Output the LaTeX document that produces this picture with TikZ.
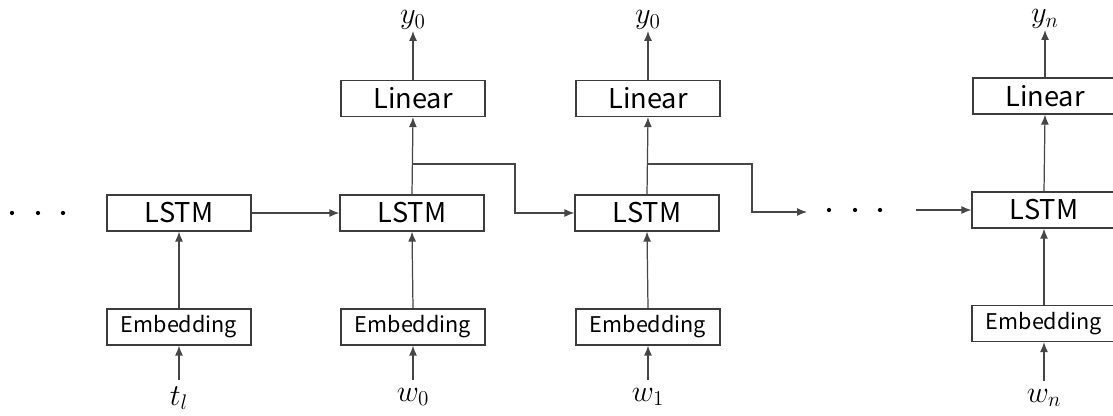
\documentclass[tikz,border=0pt]{standalone}
\usepackage{fontspec}
\usetikzlibrary{arrows.meta}
\newfontfamily\lstmFont{Noto Sans CJK JP}
\definecolor{lstmBorder}{RGB}{60,60,60}
\definecolor{lstmWire}{RGB}{70,70,70}

\begin{document}
\begin{tikzpicture}[x=1cm,y=1cm,
      layer/.style={draw=lstmBorder, line width=.7pt, inner sep=0pt,
        minimum width=2.88cm, minimum height=.72cm,
        font=\fontsize{15.5}{17}\selectfont\lstmFont},
      embed/.style={layer, font=\fontsize{12.3}{14}\selectfont\lstmFont},
      token/.style={font=\fontsize{17}{19}\selectfont, inner sep=.5pt},
      link/.style={draw=lstmWire, line width=.7pt,
        -{Latex[length=.2cm,width=.16cm]}},
      dot/.style={circle, fill=black, inner sep=0pt, minimum size=.085cm}]
      \useasboundingbox (0,0) rectangle (22.26,8.32);
      \fill[white] (0,0) rectangle (22.26,8.32);

      % leading dots
      \foreach \x [count=\i] in {.24,.76,1.26}
        \node[dot] (leadDot\i) at (\x,4.06) {};

      % step t_l
      \node[layer] (lstmA) at (3.58,4.06) {LSTM};
      \node[embed] (embA) at (3.58,1.78) {Embedding};
      \node[token, anchor=north, inner ysep=3.5pt] (inA) at (3.58,.72) {$t_l$};

      % step w_0
      \node[layer] (linB) at (8.26,6.35) {Linear};
      \node[layer] (lstmB) at (8.24,4.06) {LSTM};
      \node[embed] (embB) at (8.26,1.78) {Embedding};
      \node[token, anchor=north, inner ysep=4.5pt] (inB) at (8.26,.72) {$w_0$};
      \node[token, anchor=south] (outB) at (8.26,7.70) {$y_0$};

      % step w_1
      \node[layer] (linC) at (12.96,6.35) {Linear};
      \node[layer] (lstmC) at (12.94,4.06) {LSTM};
      \node[embed] (embC) at (12.96,1.78) {Embedding};
      \node[token, anchor=north, inner ysep=4.5pt] (inC) at (12.96,.72) {$w_1$};
      \node[token, anchor=south] (outC) at (12.96,7.70) {$y_0$};

      % middle dots
      \foreach \x [count=\i] in {16.58,17.10,17.60}
        \node[dot] (midDot\i) at (\x,4.12) {};

      % step w_n
      \node[layer] (linD) at (20.90,6.40) {Linear};
      \node[layer] (lstmD) at (20.88,4.12) {LSTM};
      \node[embed] (embD) at (20.88,1.85) {Embedding};
      \node[token, anchor=north, inner ysep=4.5pt] (inD) at (20.88,.70) {$w_n$};
      \node[token, anchor=south] (outD) at (20.90,7.72) {$y_n$};

      % vertical flow
      \foreach \s in {A,B,C,D}{
        \draw[link] (in\s.north) -- (emb\s.south);
        \draw[link] (emb\s.north) -- (lstm\s.south);}
      \foreach \s in {B,C,D}{
        \draw[link] (lstm\s.north) -- (lin\s.south);
        \draw[link] (lin\s.north) -- (out\s.south);}

      % recurrent links
      \coordinate (splitB) at (8.24,5.04);
      \coordinate (bendB) at (10.30,4.06);
      \coordinate (splitC) at (12.94,5.04);
      \coordinate (bendC) at (15.04,4.08);
      \coordinate (gapOut) at (16.14,4.08);
      \coordinate (gapIn) at (18.32,4.12);
      \draw[link] (lstmA.east) -- (lstmB.west);
      \draw[link] (splitB) -| (bendB) -- (lstmC.west);
      \draw[link] (splitC) -| (bendC) -- (gapOut);
      \draw[link] (gapIn) -- (lstmD.west);
    \end{tikzpicture}
\end{document}
